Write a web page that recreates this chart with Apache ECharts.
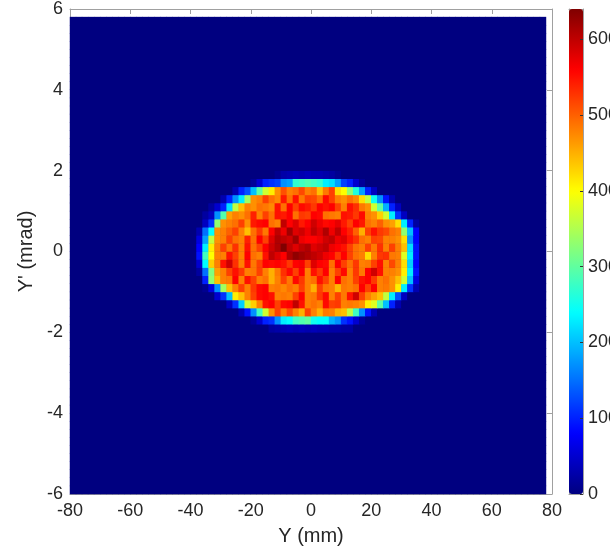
<!DOCTYPE html>
<html><head><meta charset="utf-8">
<script src="https://cdn.jsdelivr.net/npm/echarts@6/dist/echarts.min.js"></script>
<style>html,body{margin:0;padding:0;background:#fff}#c{width:610px;height:550px}</style>
</head><body><div id="c"></div>
<script>
// Histogram bins: x (mm) left edges, y (mrad) bottom edges
const xBinStart = -80, xBinStep = 2, xBinCount = 80;   // last bin (78..80) empty
const yBinStart = -6, yBinStep = 0.2, yBinCount = 60;  // last bin (5.8..6) empty
const xTicks = [-80, -60, -40, -20, 0, 20, 40, 60, 80];
const yTicks = [-6, -4, -2, 0, 2, 4, 6];
const cbTicks = [0, 100, 200, 300, 400, 500, 600];
const cbMax = 640;

// Beam core counts: columns start at x = -38 mm (step 2), rows from y = 1.8 down to y = -2.0 (step 0.2)
const beamColStartX = -38;
const beamTopRowY = 1.8;
const row_p18 = [0,0,0,0,0,0,0,0,0,0,0,0,0,10,25,30,35,30,35,30,30,25,20,10,0,0,0,0,0,0,0,0,0,0,0,0,0];
const row_p16 = [0,0,0,0,0,0,0,0,0,15,50,100,110,120,170,180,270,280,290,280,270,230,220,180,120,100,50,15,0,0,0,0,0,0,0,0,0];
const row_p14 = [0,0,0,0,0,0,30,100,130,200,300,370,410,470,510,480,490,515,480,490,440,485,520,420,400,330,260,180,100,40,0,0,0,0,0,0,0];
const row_p12 = [0,0,0,0,30,100,170,230,340,470,480,520,490,475,545,490,550,485,520,515,490,555,520,480,470,490,475,420,360,250,170,90,30,0,0,0,0];
const row_p10 = [0,0,20,50,100,220,360,440,480,470,490,485,475,550,490,560,520,555,545,525,560,550,560,520,480,550,530,485,470,370,300,190,100,40,0,0,0];
const row_p08 = [0,20,40,170,290,460,480,470,490,540,480,520,490,550,545,560,490,525,520,560,555,490,485,480,550,545,525,555,480,470,430,370,230,110,40,0,0];
const row_p06 = [0,40,110,330,470,480,490,520,470,545,555,560,490,480,600,560,580,545,560,590,570,555,560,575,545,520,560,545,490,480,500,470,460,420,230,100,20];
const row_p04 = [30,150,240,470,480,500,520,480,440,490,525,485,560,600,570,620,580,590,570,600,580,610,570,600,560,540,500,450,520,550,525,515,490,480,330,200,80];
const row_p02 = [60,180,360,470,480,520,490,480,540,490,560,520,580,610,600,590,620,570,560,560,570,590,600,570,580,550,530,490,480,520,515,480,480,470,420,170,80];
const row_p00 = [80,230,410,480,520,485,530,480,550,490,520,560,590,610,640,600,580,600,610,580,590,600,570,560,550,520,490,480,520,485,530,480,520,480,440,220,90];
const row_m02 = [90,280,400,480,480,550,520,480,560,490,480,550,600,580,560,610,630,620,610,600,590,570,560,525,560,520,490,480,420,480,525,530,485,480,380,230,90];
const row_m04 = [50,240,430,480,550,590,530,480,550,485,520,560,555,560,550,525,560,565,520,580,560,555,490,560,520,490,525,480,485,520,550,480,515,480,420,210,80];
const row_m06 = [20,150,320,460,480,520,550,525,480,485,520,480,450,485,530,555,520,560,480,550,525,560,480,520,555,480,525,485,560,590,550,480,480,470,410,230,90];
const row_m08 = [0,100,330,440,480,485,560,480,550,520,480,490,450,480,520,485,555,525,480,490,550,520,480,560,490,480,520,550,560,525,480,490,470,440,370,200,60];
const row_m10 = [0,10,60,170,340,440,480,520,480,525,555,560,480,485,475,490,480,520,480,450,520,485,480,445,485,480,490,560,520,560,480,485,470,410,230,110,30];
const row_m12 = [0,0,0,50,110,200,410,440,480,520,555,560,550,480,485,480,520,560,480,485,525,555,480,520,485,550,590,520,480,460,440,360,230,130,40,0,0];
const row_m14 = [0,0,0,0,0,40,110,210,370,430,480,550,560,520,555,560,600,550,480,490,480,555,520,525,480,485,480,470,410,380,300,200,100,30,0,0,0];
const row_m16 = [0,0,0,0,0,0,0,30,90,170,280,370,470,520,480,515,480,450,520,480,450,485,480,450,440,360,280,170,90,30,0,0,0,0,0,0,0];
const row_m18 = [0,0,0,0,0,0,0,0,0,15,50,100,110,170,230,240,280,290,300,250,240,240,190,170,110,90,50,15,0,0,0,0,0,0,0,0,0];
const row_m20 = [0,0,0,0,0,0,0,0,0,0,0,0,20,25,30,35,30,35,30,35,30,30,25,25,20,20,0,0,0,0,0,0,0,0,0,0,0];
const beamRows = [row_p18,row_p16,row_p14,row_p12,row_p10,row_p08,row_p06,row_p04,row_p02,row_p00,
                  row_m02,row_m04,row_m06,row_m08,row_m10,row_m12,row_m14,row_m16,row_m18,row_m20];

const jet = ['#000080','#0000ff','#0080ff','#00ffff','#80ff80','#ffff00','#ff8000','#ff0000','#800000'];

const xCats = [], yCats = [];
for (let k = 0; k < xBinCount; k++) xCats.push(String(xBinStart + k * xBinStep));
for (let j = 0; j < yBinCount; j++) yCats.push((yBinStart + j * yBinStep).toFixed(1));

const data = [];
const colOffset = Math.round((beamColStartX - xBinStart) / xBinStep);
const rowTopIndex = Math.round((beamTopRowY - yBinStart) / yBinStep);
for (let j = 0; j < yBinCount - 1; j++) {
  for (let k = 0; k < xBinCount - 1; k++) {
    const r = rowTopIndex - j, c = k - colOffset;
    let v = 0;
    if (r >= 0 && r < beamRows.length && c >= 0 && c < beamRows[r].length) v = beamRows[r][c];
    data.push([k, j, v]);
  }
}
// extent of the filled histogram area (in data units)
const histExtent = [[xBinStart, yBinStart, xBinStart + (xBinCount - 1) * xBinStep, yBinStart + (yBinCount - 1) * yBinStep]];

const lineCol = '#a0a0a0', txtCol = '#262626', font = 'Liberation Sans, Arial, Helvetica, sans-serif';
const valAxisCommon = {
  axisLine: { show: true, onZero: false, lineStyle: { color: lineCol, width: 1 } },
  axisTick: { show: true, inside: true, length: 5, lineStyle: { color: lineCol } },
  splitLine: { show: false }
};
const frameAxis = { axisLabel: { show: false }, axisTick: { show: false }, splitLine: { show: false },
  axisLine: { show: true, onZero: false, lineStyle: { color: lineCol } } };
const chart = echarts.init(document.getElementById('c'), null, { renderer: 'canvas' });
chart.setOption({
  animation: false,
  backgroundColor: '#fff',
  textStyle: { fontFamily: font },
  grid: [
    { left: 70, top: 9, width: 482, height: 485, containLabel: false, outerBoundsMode: 'none' },
    { left: 569, top: 9, width: 14, height: 485, containLabel: false, outerBoundsMode: 'none' }
  ],
  xAxis: [
    { type: 'category', gridIndex: 0, data: xCats, show: false },
    Object.assign({ type: 'value', gridIndex: 0, min: -80, max: 80, interval: 20, position: 'bottom',
      axisLabel: { color: txtCol, fontSize: 18, margin: 8, fontFamily: font, formatter: v => xTicks.includes(v) ? String(v) : '' },
      name: 'Y (mm)', nameLocation: 'middle', nameGap: 32,
      nameTextStyle: { color: txtCol, fontSize: 20, fontFamily: font } }, valAxisCommon),
    Object.assign({ type: 'value', gridIndex: 0, min: -80, max: 80, interval: 20, position: 'top',
      axisLabel: { show: false } }, valAxisCommon),
    Object.assign({ type: 'value', gridIndex: 1, min: 0, max: 1, position: 'bottom' }, frameAxis),
    Object.assign({ type: 'value', gridIndex: 1, min: 0, max: 1, position: 'top' }, frameAxis)
  ],
  yAxis: [
    { type: 'category', gridIndex: 0, data: yCats, show: false },
    Object.assign({ type: 'value', gridIndex: 0, min: -6, max: 6, interval: 2, position: 'left',
      axisLabel: { color: txtCol, fontSize: 18, margin: 7, fontFamily: font, formatter: v => yTicks.includes(v) ? String(v) : '' },
      name: "Y' (mrad)", nameLocation: 'middle', nameGap: 20, nameRotate: 90,
      nameTextStyle: { color: txtCol, fontSize: 20, fontFamily: font } }, valAxisCommon),
    Object.assign({ type: 'value', gridIndex: 0, min: -6, max: 6, interval: 2, position: 'right',
      axisLabel: { show: false } }, valAxisCommon),
    { type: 'value', gridIndex: 1, min: 0, max: cbMax, interval: 100, position: 'right',
      axisLine: { show: true, onZero: false, lineStyle: { color: lineCol } },
      axisTick: { show: true, inside: true, length: 3, lineStyle: { color: '#333' } },
      axisLabel: { color: txtCol, fontSize: 18, margin: 5, fontFamily: font, showMaxLabel: false,
        formatter: v => cbTicks.includes(v) ? String(v) : '' },
      splitLine: { show: false }, z: 5 },
    Object.assign({ type: 'value', gridIndex: 1, min: 0, max: cbMax, position: 'left' }, frameAxis)
  ],
  visualMap: {
    type: 'continuous', min: 0, max: cbMax, seriesIndex: 1, calculable: false, hoverLink: false,
    orient: 'vertical', left: 569, top: 9, itemWidth: 14, itemHeight: 485, padding: 0,
    inRange: { color: jet }, z: 1
  },
  series: [
    { type: 'custom', xAxisIndex: 1, yAxisIndex: 1, data: histExtent, silent: true, z: 1,
      renderItem: (params, api) => {
        const p0 = api.coord([api.value(0), api.value(1)]);
        const p1 = api.coord([api.value(2), api.value(3)]);
        return { type: 'rect', shape: { x: p0[0], y: p1[1], width: p1[0] - p0[0], height: p0[1] - p1[1] },
                 style: { fill: jet[0] } };
      } },
    { type: 'heatmap', xAxisIndex: 0, yAxisIndex: 0, data: data,
      progressive: 0, emphasis: { disabled: true }, z: 2 }
  ]
});
</script></body></html>
